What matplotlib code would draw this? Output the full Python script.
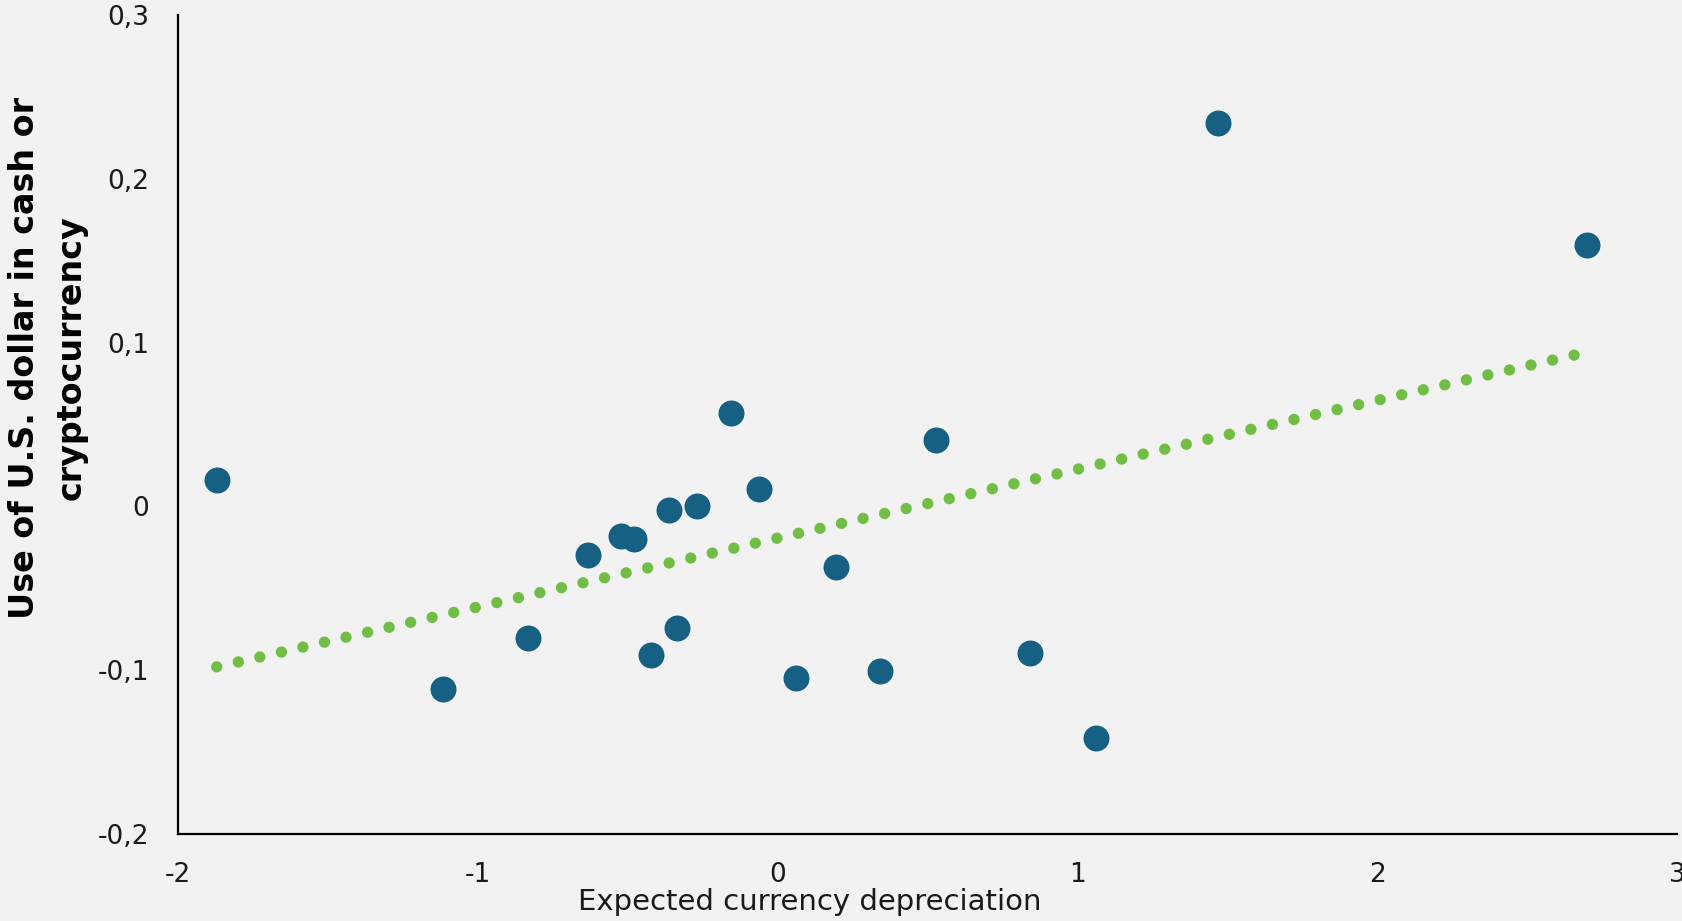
import matplotlib
matplotlib.use("Agg")
import matplotlib.pyplot as plt
from matplotlib.ticker import FuncFormatter

# values
depreciation = [-1.871, -1.115, -0.831, -0.633, -0.522, -0.479, -0.422, -0.361,
                -0.336, -0.268, -0.156, -0.063, 0.062, 0.195, 0.342, 0.529,
                0.841, 1.063, 1.469, 2.700]
dollar_use = [0.016, -0.1116, -0.0804, -0.0298, -0.018, -0.020, -0.091, -0.0022,
              -0.0745, 0.0, 0.0569, 0.0109, -0.1047, -0.037, -0.1008, 0.0405,
              -0.0896, -0.1415, 0.2343, 0.1598]
trend_x = [-1.871, 2.677]
trend_y = [-0.098, 0.0932]

x_ticks = [-2, -1, 0, 1, 2, 3]
y_ticks = [-0.2, -0.1, 0, 0.1, 0.2, 0.3]

BG = "#f2f2f2"
BLUE = "#166083"
GREEN = "#70bf44"

plt.rcParams["font.family"] = ["DejaVu Sans"]

fig = plt.figure(figsize=(16.83, 9.21), dpi=100, facecolor=BG)
ax = fig.add_axes([0.1058, 0.0945, 0.8906, 0.8892], facecolor=BG)

# dotted trend line: tiny dashes with round caps give round dots
ax.plot(trend_x, trend_y, color=GREEN, lw=8.2, linestyle=(0, (0.001, 1.94)),
        dash_capstyle="round", zorder=2)
ax.scatter(depreciation, dollar_use, s=350, color=BLUE, linewidths=0, zorder=3)

ax.set_xlim(-2, 3)
ax.set_ylim(-0.2, 0.3)
ax.set_xticks(x_ticks)
ax.set_yticks(y_ticks)


def comma_fmt(v, pos):
    s = f"{v:g}"
    if s == "-0":
        s = "0"
    return s.replace(".", ",")


ax.xaxis.set_major_formatter(FuncFormatter(comma_fmt))
ax.yaxis.set_major_formatter(FuncFormatter(comma_fmt))
ax.tick_params(axis="both", length=0, labelsize=19, colors="#1a1a1a")
ax.tick_params(axis="x", pad=20)
ax.tick_params(axis="y", pad=21)

for side in ["top", "right"]:
    ax.spines[side].set_visible(False)
for side in ["left", "bottom"]:
    ax.spines[side].set_linewidth(1.6)
    ax.spines[side].set_color("black")

fig.text(810 / 1683, 1 - 910 / 921, "Expected currency depreciation",
         ha="center", va="baseline", fontsize=21, color="#1a1a1a")
fig.text(48 / 1683, 1 - 358 / 921, "Use of U.S. dollar in cash or\ncryptocurrency",
         rotation=90, ha="center", va="center", multialignment="center",
         fontsize=24, fontweight="bold", linespacing=1.5)

fig.savefig("out.png", dpi=100, facecolor=BG)
